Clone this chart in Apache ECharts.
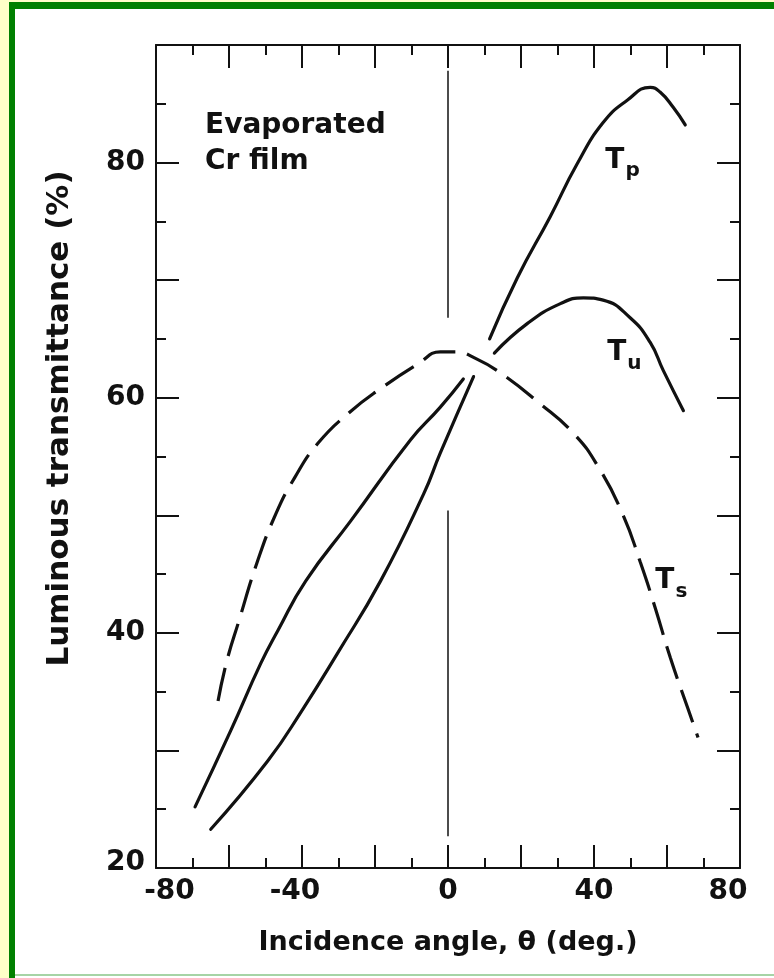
<!DOCTYPE html>
<html>
<head>
<meta charset="utf-8">
<script src="https://cdn.jsdelivr.net/npm/echarts/dist/echarts.min.js"></script>
<style>
  html, body { margin: 0; padding: 0; background: #ffffff; }
  #chart { width: 774px; height: 978px; }
</style>
</head>
<body>
<div id="chart"></div>
<script>
// Luminous transmittance of an evaporated Cr film versus angle of incidence

const angleTicks = [-80, -40, 0, 40, 80];
const transTicks = [20, 40, 60, 80];

// T_p, drawn in two branches (broken where the T_s curve passes)
const tpLeftAngle  = [-65.0, -49.4, -39.8, -30.2, -18.5, -6.7, -2.1, 7.0];
const tpLeftValue  = [23.3, 29.1, 33.5, 38.3, 44.4, 51.8, 55.3, 61.8];
const tpRightAngle = [11.4, 19.0, 28.0, 35.4, 42.5, 49.1, 55.4, 58.1, 61.7, 65.0];
const tpRightValue = [65.0, 70.2, 75.4, 79.9, 83.4, 85.3, 86.4, 86.0, 84.7, 83.2];

// T_u (unpolarized)
const tuLeftAngle  = [-69.3, -59.5, -51.3, -46.6, -39.0, -26.7, -10.3, -2.1, 4.2];
const tuLeftValue  = [25.2, 31.7, 37.4, 40.2, 44.4, 49.5, 56.4, 59.2, 61.6];
const tuRightAngle = [12.7, 21.7, 30.8, 37.1, 42.5, 49.9, 55.4, 59.0, 64.5];
const tuRightValue = [63.8, 66.3, 68.0, 68.5, 68.3, 66.8, 64.7, 62.3, 58.9];

// T_s (s-polarized), dashed
const tsAngle = [-63.0, -60.6, -57.3, -52.4, -47.2, -42.0, -35.7, -27.2, -17.9, -8.1, -2.1, 2.0,
                 7.8, 14.4, 24.8, 34.3, 41.2, 48.0, 52.7, 56.8, 60.9, 65.8, 68.5];
const tsValue = [34.2, 37.6, 41.0, 45.9, 50.1, 53.2, 56.1, 58.7, 60.9, 62.9, 63.9, 63.9,
                 63.3, 62.1, 59.6, 57.0, 54.1, 50.0, 46.0, 42.1, 37.9, 33.5, 31.1];

// Normal-incidence reference line (two pieces)
const normalAngle = [0, 0, 0, 0];
const normalValue = [87.8, 66.8, 50.4, 22.7];

// Curve names
const curveLabelSub   = ['p', 'u', 's'];
const curveLabelAngle = [43.1, 43.6, 56.8];
const curveLabelValue = [80.2, 63.8, 44.4];

const FONT = 'DejaVu Sans';
const INK = '#111111';

const pairs = (xs, ys) => xs.map((x, i) => [x, ys[i]]);
const withGap = (a, b) => a.concat([[(a[a.length - 1][0] + b[0][0]) / 2, '-']], b);

const chart = echarts.init(document.getElementById('chart'), null, { renderer: 'canvas' });

const tickStyle = { color: INK, width: 2 };
const labelFont = { fontFamily: FONT, fontWeight: 'bold', fontSize: 28, color: INK };

const frameAxisX = {
  type: 'value', min: -80, max: 80, interval: 20,
  axisLine: { onZero: false, lineStyle: { color: INK, width: 2 } },
  axisTick: { inside: true, length: 23, lineStyle: tickStyle },
  minorTick: { show: true, splitNumber: 2, length: 10, lineStyle: tickStyle },
  splitLine: { show: false },
  minorSplitLine: { show: false }
};
const frameAxisY = {
  type: 'value', min: 20, max: 90, interval: 10,
  axisLine: { onZero: false, lineStyle: { color: INK, width: 2 } },
  axisTick: { inside: true, length: 23, lineStyle: tickStyle },
  minorTick: { show: true, splitNumber: 2, length: 10, lineStyle: tickStyle },
  splitLine: { show: false },
  minorSplitLine: { show: false }
};

const option = {
  animation: false,
  backgroundColor: '#ffffff',
  title: {
    text: 'Evaporated\nCr film',
    left: 205, top: 108, padding: 0,
    textStyle: { fontFamily: FONT, fontWeight: 'bold', fontSize: 28, lineHeight: 36, color: INK }
  },
  grid: { left: 156, right: 34, top: 45, bottom: 110, containLabel: false },
  xAxis: [
    Object.assign({}, frameAxisX, {
      position: 'bottom',
      axisLabel: Object.assign({}, labelFont, {
        margin: 10,
        formatter: v => {
          if (!angleTicks.includes(v)) return '';
          if (v === angleTicks[0]) return '{lo|' + v + '}';
          if (v === angleTicks[angleTicks.length - 1]) return '{hi|' + v + '}';
          if (v < 0) return '{neg|' + v + '}';
          return String(v);
        },
        rich: {
          lo: { padding: [0, 0, 0, 27] },
          hi: { padding: [0, 24, 0, 0] },
          neg: { padding: [0, 14, 0, 0] }
        }
      }),
      name: 'Incidence angle, θ (deg.)',
      nameLocation: 'middle',
      nameGap: 61,
      nameTextStyle: { fontFamily: FONT, fontWeight: 'bold', fontSize: 27, color: INK }
    }),
    Object.assign({}, frameAxisX, { position: 'top', axisLabel: { show: false } })
  ],
  yAxis: [
    Object.assign({}, frameAxisY, {
      position: 'left',
      axisLabel: Object.assign({}, labelFont, {
        margin: 11,
        formatter: v => {
          if (!transTicks.includes(v)) return '';
          return v === transTicks[0] ? '{lo|' + v + '}' : String(v);
        },
        rich: { lo: { padding: [0, 0, 10, 0] } }
      }),
      name: 'Luminous transmittance (%)',
      nameLocation: 'middle',
      nameRotate: 90,
      nameGap: 81,
      nameTextStyle: { fontFamily: FONT, fontWeight: 'bold', fontSize: 31, color: INK, padding: [0, 0, 0, 76] }
    }),
    Object.assign({}, frameAxisY, { position: 'right', axisLabel: { show: false } })
  ],
  graphic: [
    { type: 'rect', silent: true, shape: { x: 0, y: 0, width: 9, height: 978 }, style: { fill: '#ffffc8' } },
    { type: 'rect', silent: true, shape: { x: 0, y: 0, width: 774, height: 2 }, style: { fill: '#ffffc8' } },
    { type: 'rect', silent: true, shape: { x: 9, y: 2, width: 6, height: 976 }, style: { fill: '#008000' } },
    { type: 'rect', silent: true, shape: { x: 9, y: 2, width: 765, height: 7 }, style: { fill: '#008000' } },
    { type: 'rect', silent: true, shape: { x: 15, y: 974, width: 759, height: 2 }, style: { fill: '#a6d4a6' } }
  ],
  series: [
    {
      name: 'normal', type: 'line', showSymbol: false, silent: true,
      data: withGap(pairs(normalAngle.slice(0, 2), normalValue.slice(0, 2)),
                    pairs(normalAngle.slice(2), normalValue.slice(2))),
      lineStyle: { color: INK, width: 1.5 }
    },
    {
      name: 'Tp', type: 'line', showSymbol: false, smooth: 0.5,
      data: withGap(pairs(tpLeftAngle, tpLeftValue), pairs(tpRightAngle, tpRightValue)),
      lineStyle: { color: INK, width: 3.2, cap: 'round' }
    },
    {
      name: 'Tu', type: 'line', showSymbol: false, smooth: 0.5,
      data: withGap(pairs(tuLeftAngle, tuLeftValue), pairs(tuRightAngle, tuRightValue)),
      lineStyle: { color: INK, width: 3.2, cap: 'round' }
    },
    {
      name: 'Ts', type: 'line', showSymbol: false, smooth: 0.5,
      data: pairs(tsAngle, tsValue),
      lineStyle: { color: INK, width: 3.2, type: [34, 12] }
    },
    {
      name: 'labels', type: 'scatter', symbolSize: 0, silent: true,
      itemStyle: { color: INK, opacity: 1 },
      data: curveLabelAngle.map((x, i) => ({ value: [x, curveLabelValue[i]], name: curveLabelSub[i] })),
      label: {
        show: true, position: 'right', distance: 0, color: INK, opacity: 1,
        formatter: p => '{t|T}{s|' + p.name + '}',
        rich: {
          t: { fontFamily: FONT, fontWeight: 'bold', fontSize: 28, color: INK },
          s: { fontFamily: FONT, fontWeight: 'bold', fontSize: 20, color: INK, padding: [22, 0, 0, 1] }
        }
      }
    }
  ]
};

chart.setOption(option);
</script>
</body>
</html>
